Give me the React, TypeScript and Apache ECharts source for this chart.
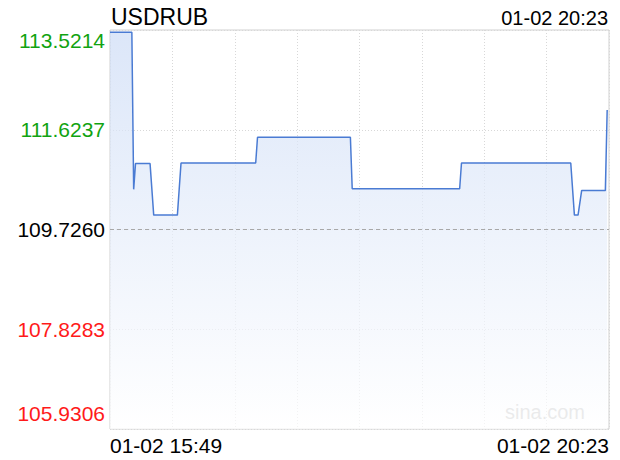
import React, { useEffect, useRef } from "react";
import * as echarts from "echarts";

const symbol = "USDRUB";
const startLabel = "01-02 15:49";
const endLabel = "01-02 20:23";
const totalMinutes = 274;
// minutes after 15:49
const minutes = [0, 12, 13, 14, 22, 24, 37, 39, 80, 81, 132, 133, 192, 193, 253, 255, 257, 259, 272, 273];
const prices = [
  113.48, 113.48, 110.49, 110.98, 110.98, 110.0, 110.0, 110.99, 110.99, 111.48,
  111.48, 110.5, 110.5, 110.99, 110.99, 110.0, 110.0, 110.47, 110.47, 112.0,
];
const prevClose = 109.726;
const yTicks = [105.9306, 107.8283, 109.726, 111.6237, 113.5214];

const FONT = "'Liberation Sans', Arial, Helvetica, sans-serif";

export default function App() {
  const ref = useRef<HTMLDivElement>(null);
  useEffect(() => {
    if (!ref.current) return;
    const chart = echarts.init(ref.current, null, { renderer: "svg" });
    const data = minutes.map((m, i) => [m, prices[i]]);
    const base = { fontFamily: FONT, fontSize: 21 };
    chart.setOption({
      animation: false,
      backgroundColor: "#ffffff",
      textStyle: { fontFamily: FONT },
      grid: {
        left: 110,
        right: 11,
        top: 30,
        bottom: 31,
        show: true,
        borderColor: "#d0d0d0",
        borderWidth: 1,
      },
      title: [
        {
          text: symbol,
          left: 106,
          top: 0,
          textStyle: { fontFamily: FONT, fontSize: 23, fontWeight: "normal", color: "#000" },
        },
        {
          text: endLabel,
          right: 7,
          top: 3,
          textStyle: { fontFamily: FONT, fontSize: 20, fontWeight: "normal", color: "#000" },
        },
      ],
      xAxis: {
        type: "value",
        min: 0,
        max: totalMinutes,
        interval: totalMinutes / 8,
        axisLine: { show: false },
        axisTick: { show: false },
        splitLine: { show: true, lineStyle: { color: "#d8d8d8", type: [1, 2], width: 1 } },
        axisLabel: {
          showMinLabel: true,
          showMaxLabel: true,
          alignMinLabel: "left",
          alignMaxLabel: "right",
          margin: 6,
          fontFamily: FONT,
          fontSize: 21,
          color: "#000",
          formatter: (v: number) =>
            v === 0 ? startLabel : Math.abs(v - totalMinutes) < 1e-6 ? endLabel : "",
        },
      },
      yAxis: {
        type: "value",
        min: yTicks[0],
        max: yTicks[yTicks.length - 1],
        axisLine: { show: false },
        axisTick: { show: false, customValues: yTicks },
        splitLine: { show: true, lineStyle: { color: "#d8d8d8", type: [1, 2], width: 1 } },
        axisLabel: {
          customValues: yTicks,
          margin: 5,
          fontFamily: FONT,
          fontSize: 21,
          verticalAlignMinLabel: "bottom",
          verticalAlignMaxLabel: "top",
          formatter: (v: number) => {
            const s = v.toFixed(4);
            if (Math.abs(v - yTicks[0]) < 1e-6) return `{rb|${s}}`;
            if (v > prevClose + 1e-6) return `{g|${s}}`;
            if (v < prevClose - 1e-6) return `{r|${s}}`;
            return `{k|${s}}`;
          },
          rich: {
            g: { ...base, color: "#11a311" },
            r: { ...base, color: "#ff1a1a" },
            rb: { ...base, color: "#ff1a1a", padding: [0, 0, 5, 0] },
            k: { ...base, color: "#000" },
          },
        },
      },
      graphic: [
        {
          type: "text",
          right: 35,
          bottom: 38,
          style: { text: "sina.com", font: `20px ${FONT}`, fill: "#bdbdbd" },
          z: 1,
        },
      ],
      series: [
        {
          type: "line",
          data,
          showSymbol: false,
          lineStyle: { color: "#4a7bd3", width: 1.5 },
          areaStyle: {
            origin: "start",
            color: new echarts.graphic.LinearGradient(0, 0, 0, 1, [
              { offset: 0, color: "#cddcf6" },
              { offset: 1, color: "#ffffff" },
            ]),
          },
          markLine: {
            silent: true,
            symbol: "none",
            label: { show: false },
            lineStyle: { color: "#a8a8a8", type: [4, 3], width: 1 },
            data: [{ yAxis: prevClose }],
          },
        },
      ],
    });
    return () => chart.dispose();
  }, []);
  return <div ref={ref} style={{ position: "fixed", left: 0, top: 0, width: 620, height: 460 }} />;
}
